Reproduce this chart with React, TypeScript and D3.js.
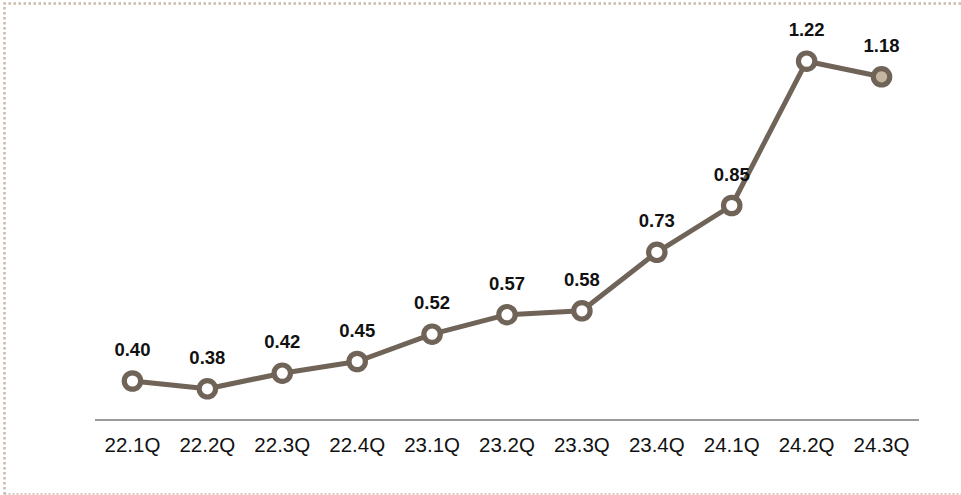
import React from "react";
import * as d3 from "d3";

const categories = ["22.1Q", "22.2Q", "22.3Q", "22.4Q", "23.1Q", "23.2Q", "23.3Q", "23.4Q", "24.1Q", "24.2Q", "24.3Q"];
const values = [0.40, 0.38, 0.42, 0.45, 0.52, 0.57, 0.58, 0.73, 0.85, 1.22, 1.18];
const labels = ["0.40", "0.38", "0.42", "0.45", "0.52", "0.57", "0.58", "0.73", "0.85", "1.22", "1.18"];

export default function App() {
  const W = 961, H = 495;
  const x = d3.scaleBand<string>().domain(categories).range([95, 919]);
  const y = d3.scaleLinear().domain([0, 1.3]).range([537, 30]);
  const cx = (c: string) => (x(c) as number) + x.bandwidth() / 2;
  const line = d3.line<number>().x((_, i) => cx(categories[i])).y((v) => y(v));
  const color = "#6f6457";
  const font = "Arial, 'Liberation Sans', sans-serif";
  return (
    <svg width={W} height={H} style={{ position: "absolute", left: 0, top: 0 }} fontFamily={font}>
      <rect x={0} y={0} width={W} height={H} fill="#ffffff" />
      <path d={`M4.5,494.5 L4.5,3.5 L961,3.5`} fill="none" stroke="#c9bba8" strokeWidth={2.5} strokeDasharray="2.5,2.5" />
      <path d={`M4.5,494 L961,494`} fill="none" stroke="#c9bba8" strokeWidth={1.5} strokeDasharray="2,2" />
      <line x1={95} x2={919} y1={420} y2={420} stroke="#9a9a9a" strokeWidth={2} />
      {categories.map((c) => (
        <text key={c} x={cx(c)} y={452} textAnchor="middle" fontSize={20.5} fill="#111">{c}</text>
      ))}
      <path d={line(values) as string} fill="none" stroke={color} strokeWidth={5} strokeLinejoin="round" />
      {values.map((v, i) => (
        <circle key={i} cx={cx(categories[i])} cy={y(v)} r={8.2} fill={i === values.length - 1 ? "#c4b5a1" : "#ffffff"} stroke={color} strokeWidth={5.2} />
      ))}
      {values.map((v, i) => (
        <text key={"l" + i} x={cx(categories[i])} y={y(v) - 25} textAnchor="middle" fontSize={18.5} fontWeight="bold" fill="#111">{labels[i]}</text>
      ))}
    </svg>
  );
}
